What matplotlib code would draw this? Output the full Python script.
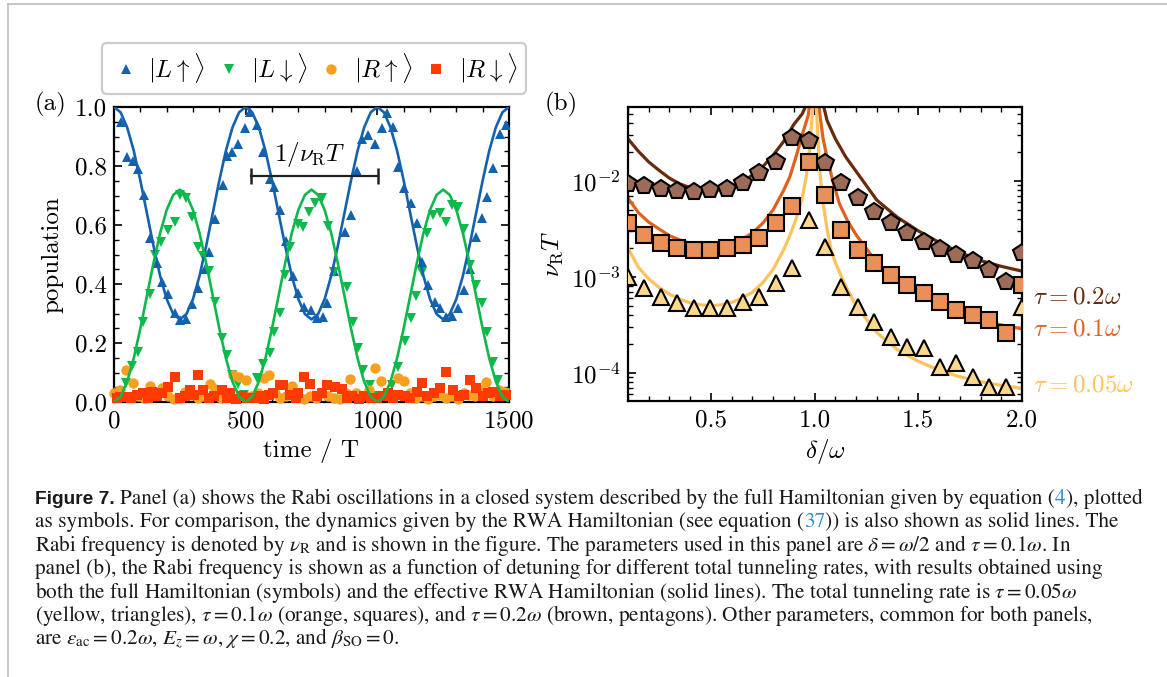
import numpy as np
import matplotlib
matplotlib.use('Agg')
import matplotlib.pyplot as plt
from matplotlib.lines import Line2D
from matplotlib.ticker import MultipleLocator, LogLocator, NullFormatter, FormatStrFormatter, FixedLocator

# ---------------- data: panel (a) ----------------
t_line = np.arange(0, 1501, 25)
L_up_line = [1.000,0.982,0.931,0.852,0.751,0.640,0.529,0.428,0.349,0.298,0.280,0.298,0.349,0.428,0.529,0.640,0.751,0.852,0.931,0.982,
             1.000,0.982,0.931,0.852,0.751,0.640,0.529,0.428,0.349,0.298,0.280,0.298,0.349,0.428,0.529,0.640,0.751,0.852,0.931,0.982,
             1.000,0.982,0.931,0.852,0.751,0.640,0.529,0.428,0.349,0.298,0.280,0.298,0.349,0.428,0.529,0.640,0.751,0.852,0.931,0.982,1.000]
L_dn_line = [0.000,0.018,0.069,0.148,0.249,0.360,0.471,0.572,0.651,0.702,0.720,0.702,0.651,0.572,0.471,0.360,0.249,0.148,0.069,0.018,
             0.000,0.018,0.069,0.148,0.249,0.360,0.471,0.572,0.651,0.702,0.720,0.702,0.651,0.572,0.471,0.360,0.249,0.148,0.069,0.018,
             0.000,0.018,0.069,0.148,0.249,0.360,0.471,0.572,0.651,0.702,0.720,0.702,0.651,0.572,0.471,0.360,0.249,0.148,0.069,0.018,0.000]

t_Lu = [25,48,71,93,113,138,164,181,206,230,252,273,297,320,345,362,385,413,430,450,469,497,518,
        542,566,592,607,630,652,678,700,721,747,770,792,810,834,877,900,924,942,966,991,1016,1035,
        1061,1080,1102,1127,1149,1168,1194,1219,1238,1261,1282,1305,1330,1352,1374,1396,1415,1440,1466,1490]
p_Lu = [0.948,0.832,0.818,0.791,0.702,0.556,0.470,0.408,0.365,0.303,0.277,0.283,0.332,0.385,0.451,0.509,0.62,0.736,0.835,0.847,0.876,0.928,0.984,
        0.939,0.847,0.756,0.73,0.651,0.545,0.428,0.37,0.323,0.312,0.284,0.289,0.334,0.443,0.575,0.634,0.782,0.89,0.905,0.875,0.928,0.978,
        0.933,0.798,0.724,0.673,0.606,0.476,0.397,0.34,0.318,0.289,0.292,0.318,0.38,0.45,0.56,0.623,0.696,0.792,0.91,0.94]

t_Ld = [20,46,69,91,111,137,155,180,206,231,251,275,296,319,338,360,385,409,428,450,472,495,
        520,542,567,592,606,630,649,670,697,716,741,763,790,814,835,883,906,928,947,972,995,
        1020,1054,1080,1105,1127,1148,1168,1190,1213,1238,1261,1282,1307,1330,1352,1374,1396,1417,1440,1460,1485]
p_Ld = [0.035,0.065,0.122,0.171,0.27,0.365,0.498,0.543,0.582,0.611,0.703,0.69,0.628,0.526,0.495,0.445,0.338,0.216,0.158,0.092,0.06,0.025,
        0.01,0.08,0.13,0.165,0.238,0.301,0.431,0.526,0.602,0.592,0.643,0.676,0.693,0.597,0.442,0.39,0.272,0.184,0.108,0.058,0.02,
        0.02,0.058,0.12,0.207,0.284,0.36,0.442,0.572,0.634,0.64,0.611,0.668,0.662,0.588,0.464,0.397,0.334,0.238,0.137,0.075,0.03]

t_Ru = [0,23,46,71,92,115,137,160,183,206,228,250,270,295,318,340,365,385,408,430,453,475,500,520,545,568,588,610,632,655,
        675,700,722,745,768,790,812,835,858,880,896,920,945,968,991,1013,1035,1058,1080,1102,1125,1148,1170,1192,1215,1238,1260,1282,1305,1328,
        1350,1372,1395,1412,1440,1462,1485]
p_Ru = [0.03,0.041,0.108,0.063,0.02,0.015,0.055,0.03,0.047,0.02,0.01,0.015,0.035,0.025,0.012,0.02,0.06,0.045,0.015,0.02,
        0.09,0.085,0.075,0.02,0.03,0.08,0.092,0.03,0.015,0.02,0.053,0.02,0.01,0.02,0.015,0.03,0.02,0.015,0.01,0.03,
        0.078,0.03,0.02,0.04,0.114,0.072,0.025,0.02,0.08,0.072,0.03,0.015,0.02,0.01,0.02,0.025,0.015,0.02,0.01,0.03,
        0.025,0.02,0.04,0.067,0.02,0.04,0.035]

t_Rd = [10,23,48,66,86,111,130,143,162,181,206,232,250,270,289,305,320,339,360,380,409,430,440,465,487,505,530,550,570,590,
        605,630,643,668,690,700,722,746,770,790,807,839,864,885,905,930,950,975,1000,1020,1040,1060,1080,1105,1125,1149,1170,1190,1215,1238,
        1262,1288,1310,1330,1352,1376,1400,1420,1440,1465,1490]
p_Rd = [0.015,0.018,0.018,0.012,0.024,0.03,0.012,0.035,0.02,0.03,0.052,0.086,0.012,0.02,0.041,0.025,0.092,0.041,0.015,0.02,
        0.041,0.012,0.03,0.01,0.02,0.012,0.015,0.02,0.01,0.025,0.03,0.058,0.058,0.024,0.015,0.03,0.086,0.06,0.02,0.03,
        0.058,0.052,0.044,0.015,0.02,0.01,0.02,0.015,0.012,0.02,0.03,0.015,0.024,0.02,0.015,0.035,0.065,0.02,0.03,0.046,
        0.103,0.041,0.02,0.025,0.075,0.046,0.02,0.03,0.035,0.02,0.025]

# ---------------- data: panel (b) ----------------
delta_sym = [0.100,0.179,0.258,0.338,0.417,0.496,0.575,0.654,0.733,0.813,0.892,0.971,1.050,
             1.129,1.208,1.288,1.367,1.446,1.525,1.604,1.683,1.763,1.842,1.921,2.000]
nu_pent = [0.0093,0.00893,0.00826,0.00787,0.00774,0.00805,0.00818,0.00946,0.0120,0.0158,0.0279,0.0261,0.0153,
           0.00946,0.00661,0.00479,0.00363,0.00285,0.00233,0.00196,0.00169,0.00148,0.00118,0.000893,0.00177]
nu_sq = [0.00363,0.00274,0.00224,0.00199,0.00191,0.00191,0.00199,0.00215,0.00253,0.00363,0.0055,0.0158,0.00714,
         0.00309,0.00191,0.00139,0.00105,0.000826,0.000676,0.000553,0.000453,0.000402,0.000356,0.000259,0.000826]
nu_tri = [0.00101,0.000762,0.000624,0.000532,0.000479,0.000472,0.000479,0.000545,0.000624,0.000859,0.00123,0.00393,0.00207,
          0.000794,0.000491,0.000343,0.000239,0.000188,0.000181,0.000116,0.000126,0.0000916,0.0000719,0.0000719,0.00049]

d_brown = [0.1,0.15,0.2,0.25,0.3,0.35,0.4,0.45,0.5,0.55,0.6,0.65,0.7,0.75,0.8,0.85,0.9,0.94,0.96,0.98,0.99,1.0,
           1.01,1.02,1.03,1.06,1.1,1.15,1.2,1.3,1.4,1.5,1.6,1.7,1.8,1.9,2.0]
nu_brown = [0.0275,0.0204,0.0158,0.0129,0.0107,0.00933,0.00851,0.00804,0.00794,0.00813,0.00871,0.00977,0.0115,0.0141,
            0.0186,0.0257,0.0389,0.050,0.062,0.10,0.16,0.32,0.16,0.11,0.0794,0.0427,0.0275,0.0178,0.0126,0.00631,
            0.00417,0.00302,0.00229,0.0018,0.00148,0.00129,0.00115]
d_orange = [0.1,0.15,0.2,0.25,0.3,0.35,0.4,0.45,0.5,0.55,0.6,0.65,0.7,0.75,0.8,0.85,0.88,0.91,0.94,0.97,0.99,1.0,
            1.01,1.025,1.04,1.06,1.09,1.12,1.16,1.2,1.3,1.4,1.5,1.6,1.7,1.8,1.9,2.0]
nu_orange = [0.00661,0.00468,0.00372,0.00316,0.00269,0.00243,0.00224,0.00211,0.00207,0.00209,0.00221,0.00245,0.00288,
             0.00363,0.00501,0.00794,0.011,0.0178,0.0302,0.049,0.126,0.32,0.126,0.0501,0.0282,0.0174,0.00955,0.00575,
             0.0038,0.00275,0.00141,0.000912,0.000661,0.000513,0.000427,0.000355,0.000316,0.000288]
d_yellow = [0.1,0.15,0.2,0.25,0.3,0.35,0.4,0.45,0.5,0.55,0.6,0.65,0.7,0.75,0.8,0.85,0.88,0.91,0.94,0.96,0.975,0.985,
            0.993,1.0,1.006,1.015,1.025,1.04,1.06,1.08,1.1,1.13,1.16,1.2,1.3,1.4,1.5,1.6,1.7,1.8,1.9,2.0]
nu_yellow = [0.002,0.00126,0.000955,0.000776,0.000661,0.000589,0.000537,0.000513,0.000501,0.000513,0.000543,0.000603,
             0.000692,0.000871,0.0012,0.00191,0.00269,0.00398,0.00661,0.0112,0.0209,0.0398,0.0708,0.158,0.0708,0.0316,
             0.0126,0.00603,0.00316,0.00191,0.00141,0.001,0.000724,0.000501,0.000263,0.000174,0.000132,0.000107,
             0.0000912,0.0000813,0.0000741,0.0000692]

# ---------------- style ----------------
plt.rcParams.update({
    'font.family': 'serif', 'font.serif': ['cmr10'], 'mathtext.fontset': 'cm',
    'axes.formatter.use_mathtext': True, 'font.size': 18,
    'xtick.direction': 'in', 'ytick.direction': 'in', 'xtick.top': True, 'ytick.right': True,
    'xtick.major.size': 6, 'ytick.major.size': 6, 'xtick.minor.size': 3.5, 'ytick.minor.size': 3.5,
    'xtick.major.width': 1.2, 'ytick.major.width': 1.2, 'xtick.minor.width': 1.0, 'ytick.minor.width': 1.0,
    'axes.linewidth': 1.6, 'xtick.major.pad': 6, 'ytick.major.pad': 5,
})

W, H = 1167, 677
fig = plt.figure(figsize=(W/100, H/100), dpi=100)

blue, green, orng, red = '#1461ad', '#0fb84a', '#f79f1f', '#ff3a00'
br_l, br_f = '#6a2a0c', '#9c6c58'
or_l, or_f = '#e0601c', '#e98f58'
ye_l, ye_f = '#fcc25c', '#fdd78c'

# ---------------- panel (a) ----------------
axA = fig.add_axes([114/W, 1-402/H, 395/W, 295/H])
axA.plot(t_Lu, p_Lu, '^', color=blue, ms=7.5, mew=0, label=r'$|L\uparrow\rangle$', zorder=3)
axA.plot(t_Ld, p_Ld, 'v', color=green, ms=7.5, mew=0, label=r'$|L\downarrow\rangle$', zorder=3)
axA.plot(t_Ru, p_Ru, 'o', color=orng, ms=7.5, mew=0, label=r'$|R\uparrow\rangle$', zorder=3, clip_on=False)
axA.plot(t_Rd, p_Rd, 's', color=red, ms=6.5, mew=0, label=r'$|R\downarrow\rangle$', zorder=3, clip_on=False)
axA.plot(t_line, L_up_line, '-', color=blue, lw=1.9, zorder=4)
axA.plot(t_line, L_dn_line, '-', color=green, lw=1.9, zorder=4)
axA.set_xlim(0, 1500)
axA.set_ylim(0, 1)
axA.xaxis.set_major_locator(FixedLocator([0, 500, 1000, 1500]))
axA.xaxis.set_minor_locator(MultipleLocator(100))
axA.yaxis.set_major_locator(MultipleLocator(0.2))
axA.yaxis.set_minor_locator(MultipleLocator(0.05))
axA.yaxis.set_major_formatter(FormatStrFormatter('%.1f'))
axA.set_ylabel('population', labelpad=8)
axA.set_xlabel('time / T', labelpad=4)
# Rabi period marker
bar_t = [520, 1003]
bar_y = [0.767, 0.767]
axA.plot(bar_t, bar_y, '-', color='#222222', lw=1.6, zorder=5)
axA.plot(bar_t, bar_y, '|', color='#222222', ms=12, mew=1.8, zorder=5)
axA.text(745, 0.838, r'$1/\nu_{\rm R}T$', ha='center', va='center', fontsize=18, zorder=6)

h, l = axA.get_legend_handles_labels()
leg = fig.legend(h, l, loc='center', bbox_to_anchor=(314/W, 1-68.5/H), ncol=4, frameon=True,
                 fancybox=True, edgecolor='#cccccc', framealpha=1, handletextpad=0.3,
                 columnspacing=0.35, handlelength=1.2, borderpad=0.35, borderaxespad=0,
                 numpoints=1, fontsize=18)
leg.get_frame().set_linewidth(1.6)

# ---------------- panel (b) ----------------
axB = fig.add_axes([628/W, 1-401/H, 394/W, 294/H])
axB.plot(d_brown, nu_brown, '-', color=br_l, lw=2.3, zorder=2)
axB.plot(d_orange, nu_orange, '-', color=or_l, lw=2.3, zorder=2)
axB.plot(d_yellow, nu_yellow, '-', color=ye_l, lw=2.3, zorder=2)
axB.plot(delta_sym, nu_pent, 'p', color=br_f, mec='black', mew=1.5, ms=13, zorder=3)
axB.plot(delta_sym, nu_sq, 's', color=or_f, mec='black', mew=1.5, ms=12, zorder=3)
axB.plot(delta_sym, nu_tri, '^', color=ye_f, mec='black', mew=1.5, ms=12, zorder=3)
axB.set_yscale('log')
axB.set_xlim(0.1, 2.0)
axB.set_ylim(5.1e-5, 0.059)
axB.xaxis.set_major_locator(FixedLocator([0.5, 1.0, 1.5, 2.0]))
axB.xaxis.set_minor_locator(MultipleLocator(0.1))
axB.xaxis.set_major_formatter(FormatStrFormatter('%.1f'))
axB.yaxis.set_major_locator(LogLocator(base=10, numticks=10))
axB.yaxis.set_minor_locator(LogLocator(base=10, subs=np.arange(2, 10), numticks=20))
axB.yaxis.set_minor_formatter(NullFormatter())
axB.set_ylabel(r'$\nu_{\rm R}T$', labelpad=4)
axB.set_xlabel(r'$\delta/\omega$', labelpad=4)

fig.text(35/W, 1-104/H, '(a)', va='center', ha='left', fontsize=18)
fig.text(545/W, 1-104/H, '(b)', va='center', ha='left', fontsize=18)
fig.text(1033/W, 1-297/H, r'$\tau = 0.2\omega$', color=br_l, va='center', ha='left', fontsize=18)
fig.text(1033/W, 1-329/H, r'$\tau = 0.1\omega$', color=or_l, va='center', ha='left', fontsize=18)
fig.text(1033/W, 1-385/H, r'$\tau = 0.05\omega$', color=ye_l, va='center', ha='left', fontsize=18)

# border
fig.add_artist(Line2D([8/W, 8/W], [0, 1-4/H], transform=fig.transFigure, color='#bdbdbd', lw=1.2))
fig.add_artist(Line2D([8/W, 1], [1-4/H, 1-4/H], transform=fig.transFigure, color='#bdbdbd', lw=1.2))

# ---------------- caption ----------------
renderer = fig.canvas.get_renderer()
styles = {
    'n': dict(family='STIXGeneral', math_fontfamily='stix', color='#1a1a1a'),
    'b': dict(family='Liberation Sans', weight='bold', color='#1a1a1a'),
    'k': dict(family='STIXGeneral', math_fontfamily='stix', color='#2a8fd0'),
}
caption = [
    [("Figure 7.", 'b'), (None, 'sp'),
     ("Panel (a) shows the Rabi oscillations in a closed system described by the full Hamiltonian given by equation (", 'n'),
     ("4", 'k'), ("), plotted", 'n')],
    [("as symbols. For comparison, the dynamics given by the RWA Hamiltonian (see equation (", 'n'), ("37", 'k'),
     (")) is also shown as solid lines. The", 'n')],
    [(r"Rabi frequency is denoted by $\nu_{\rm R}$ and is shown in the figure. The parameters used in this panel are $\delta = \omega/2$ and $\tau = 0.1\omega$. In", 'n')],
    [("panel (b), the Rabi frequency is shown as a function of detuning for different total tunneling rates, with results obtained using", 'n')],
    [(r"both the full Hamiltonian (symbols) and the effective RWA Hamiltonian (solid lines). The total tunneling rate is $\tau = 0.05\omega$", 'n')],
    [(r"(yellow, triangles), $\tau = 0.1\omega$ (orange, squares), and $\tau = 0.2\omega$ (brown, pentagons). Other parameters, common for both panels,", 'n')],
    [(r"are $\epsilon_{\rm ac} = 0.2\omega$, $E_z = \omega$, $\chi = 0.2$, and $\beta_{\rm SO} = 0$.", 'n')],
]

def width_of(s, st, size):
    t = fig.text(0, 0, s, fontsize=size, **styles[st])
    w = t.get_window_extent(renderer).width
    t.remove()
    return w

def draw_line(segs, x0, yb, size, draw=True):
    x = x0
    for s, st in segs:
        if st == 'sp':
            x += width_of('a a', 'n', size) - width_of('aa', 'n', size)
            continue
        fs = size * 0.9 if st == 'b' else size
        t = fig.text(x/W, 1-yb/H, s, fontsize=fs, va='baseline', ha='left', **styles[st])
        x += t.get_window_extent(renderer).width
        if not draw:
            t.remove()
    return x

w0 = draw_line(caption[0], 35, 504, 12, draw=False) - 35
cap_size = 12 * 1103 / w0
for i, segs in enumerate(caption):
    draw_line(segs, 35, 504 + 23.4*i, cap_size)

fig.savefig('out.png', dpi=100)
